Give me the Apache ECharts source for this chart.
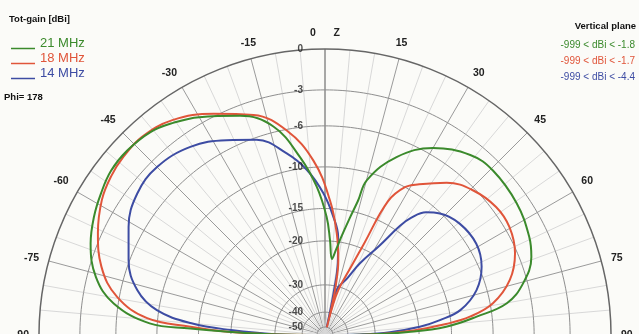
<!DOCTYPE html>
<html>
<head>
<meta charset="utf-8">
<script src="https://cdn.jsdelivr.net/npm/echarts@6/dist/echarts.min.js"></script>
<style>
  html, body { margin: 0; padding: 0; background: #fbfbf8; }
  #main { width: 639px; height: 334px; }
</style>
</head>
<body>
<div id="main"></div>
<script>
// angle from zenith in degrees (left negative), gain in dBi
const angle21 = [-90, -89, -88, -87.2, -86.2, -81.5, -75.8, -68.7, -62.9, -57.8, -52.5, -47, -40.7, -35.6, -30, -21.2, -13.9, -8, -3.2, 0.8, 3, 5.2, 7.4, 9.5, 12, 13.8, 15.2, 21.9, 30, 38.9, 45.6, 55.5, 64.4, 69.3, 75.4, 80.1, 83.1, 86.1, 88, 89.3, 90];
const gain21  = [-999, -27, -19, -13.9, -9.2, -5.6, -3.7, -2.5, -1.9, -1.5, -1.15, -1.1, -1.3, -1.8, -2.5, -3.8, -5.5, -8.8, -12.2, -16.2, -19.8, -23.4, -21.4, -19.0, -15.9, -13.5, -10.8, -7.6, -5.4, -4.1, -3.8, -4.0, -4.5, -5.0, -6.4, -8.3, -11.7, -15.7, -22, -32, -999];

const angle18 = [-90, -89, -88, -86.5, -84.6, -79.6, -73, -65.8, -58.8, -53.5, -48.5, -42.8, -35.4, -26.7, -18, -10.6, -3.8, 2.1, 6.6, 10.1, 12.3, 13.3, 13.8, 14.6, 16.5, 20.9, 23.1, 25.2, 28.4, 32, 38.6, 45.6, 53.2, 59.7, 66.7, 73.4, 79.3, 82.8, 84.8, 87, 89, 90];
const gain18  = [-999, -27, -19, -13.9, -8.9, -5.8, -3.9, -2.7, -1.8, -1.4, -1.2, -1.15, -1.6, -2.8, -4.1, -6.1, -9.3, -13.9, -18.6, -23.5, -30, -38, -50, -38, -30.9, -24.1, -19.2, -12.3, -10.0, -9.0, -7.3, -6.2, -5.6, -5.6, -6.2, -7.5, -9.7, -12.5, -15.7, -21, -30, -999];

const angle14 = [-90, -89, -87, -85, -81.6, -76.6, -69.1, -61.2, -53, -45, -35.6, -26.8, -19.3, -11.9, -6.3, -0.7, 4, 7.6, 10, 11.5, 12.4, 13.2, 14.5, 21.4, 26, 31.3, 34.5, 36.3, 39.5, 43.4, 50.4, 58.9, 66.4, 73.5, 79.5, 82.6, 85, 87.5, 89, 90];
const gain14  = [-999, -30, -20, -14, -9.8, -7.5, -5.9, -4.7, -3.8, -3.6, -4.1, -5.2, -6.2, -8.2, -10.2, -13.0, -16.1, -19.1, -24, -32, -50, -38, -31, -27, -22.7, -18.3, -14.2, -12.6, -11.0, -10.1, -9.3, -9.1, -9.7, -11.1, -13.5, -16.5, -19.8, -26, -35, -999];

const seriesNames = ['21 MHz', '18 MHz', '14 MHz'];
const rangeLabels = ['-999 < dBi < -1.8', '-999 < dBi < -1.7', '-999 < dBi < -4.4'];
const ringDb = [0, -3, -6, -10, -15, -20, -30, -40, -50];

const colors = ['#3b8a2c', '#e0553a', '#3d4ca3'];

// log-like gain scale (0 dB at the rim)
function toR(db) {
  if (db <= -60) return 0;
  const u = -db;
  const k = Math.max(0, u - 30);
  return Math.exp(-0.0507 * u - 0.000245 * u * u - 0.00106 * k * k);
}

const arcAngles = [];
for (let a = -90; a <= 90; a += 1) arcAngles.push(a);

const patterns = [[angle21, gain21], [angle18, gain18], [angle14, gain14]];

const ringSeries = ringDb.filter(d => d < 0).map(d => ({
  type: 'line',
  coordinateSystem: 'polar',
  data: arcAngles.map(a => [toR(d), a]),
  symbol: 'none',
  silent: true,
  z: 1,
  lineStyle: { color: '#8e8e8e', width: 1 }
}));

const patternSeries = patterns.map((p, i) => ({
  name: seriesNames[i],
  type: 'line',
  coordinateSystem: 'polar',
  data: p[0].map((a, j) => [toR(p[1][j]), a]),
  symbol: 'none',
  smooth: 0.4,
  z: 5 - i,
  lineStyle: { color: colors[i], width: 2 },
  itemStyle: { color: colors[i] }
}));

const ringLabelSeries = {
  type: 'scatter',
  coordinateSystem: 'polar',
  symbolSize: 0,
  silent: true,
  z: 6,
  data: ringDb.map(d => [toR(d), 0]),
  label: {
    show: true,
    position: 'left',
    distance: 22,
    color: '#222',
    fontSize: 10,
    fontWeight: 'bold',
    fontFamily: 'Liberation Sans',
    formatter: p => String(ringDb[p.dataIndex])
  }
};

const angleTicks = [];
for (let a = -90; a <= 90; a += 15) angleTicks.push(a);

const chart = echarts.init(document.getElementById('main'));
chart.setOption({
  animation: false,
  backgroundColor: '#fbfbf8',
  polar: { center: [325, 335], radius: 286 },
  angleAxis: {
    type: 'value',
    min: -90,
    max: 90,
    interval: 15,
    startAngle: 180,
    endAngle: 0,
    clockwise: true,
    axisLine: { show: true, lineStyle: { color: '#666', width: 1.5 } },
    axisTick: { show: false },
    axisLabel: {
      margin: 10,
      color: '#222',
      fontSize: 10.5,
      fontWeight: 'bold',
      fontFamily: 'Liberation Sans',
      formatter: v => v === 0 ? '0      Z' : String(v)
    },
    splitLine: {
      show: true,
      lineStyle: { color: angleTicks.map(a => a === 0 ? '#555' : '#9a9a9a'), width: 1 }
    },
    minorTick: { show: false, splitNumber: 3 },
    minorSplitLine: { show: true, lineStyle: { color: '#d8d8d8', width: 1 } }
  },
  radiusAxis: {
    type: 'value',
    min: 0,
    max: 1,
    axisLine: { show: false },
    axisTick: { show: false },
    axisLabel: { show: false },
    splitLine: { show: false }
  },
  legend: {
    orient: 'vertical',
    left: 6,
    top: 32,
    // line drawn at the bottom of the icon box, under the text baseline
    icon: 'path://M0,0 M0,10 L24,10 L24,11.5 L0,11.5 Z',
    itemWidth: 24,
    itemHeight: 11.5,
    itemGap: 2,
    selectedMode: false,
    textStyle: { fontSize: 13, fontFamily: 'Liberation Sans' },
    data: seriesNames.map((n, i) => ({ name: n, textStyle: { color: colors[i] } }))
  },
  graphic: [
    { type: 'text', left: 9, top: 14, style: { text: 'Tot-gain [dBi]', font: 'bold 9.5px "Liberation Sans"', fill: '#111' } },
    { type: 'text', left: 4, top: 92, style: { text: 'Phi= 178', font: 'bold 9.5px "Liberation Sans"', fill: '#111' } },
    { type: 'text', right: 3, top: 21, style: { text: 'Vertical plane', font: 'bold 9.5px "Liberation Sans"', fill: '#111' } },
  ].concat(rangeLabels.map((t, i) => ({
    type: 'text', right: 4, top: 40 + i * 16,
    style: { text: t, font: '10px "Liberation Sans Narrow", "Liberation Sans"', fill: colors[i] }
  }))),
  series: ringSeries.concat(patternSeries, [ringLabelSeries])
});
</script>
</body>
</html>
